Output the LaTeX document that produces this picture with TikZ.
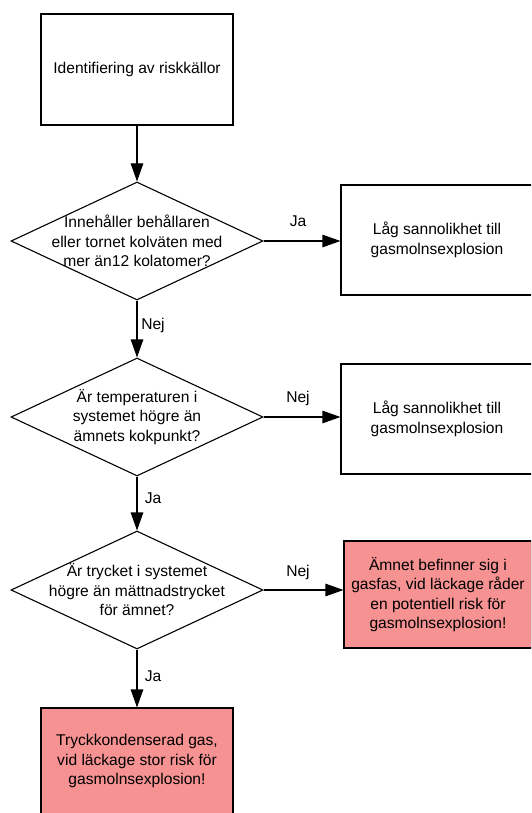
\documentclass[tikz,border=0pt]{standalone}
\usepackage{fontspec}
\setmainfont{Liberation Sans}
\usetikzlibrary{shapes.geometric,arrows.meta}
\definecolor{alarm}{RGB}{246,146,146}
\tikzset{
  every node/.style={font=\fontsize{15.6}{19.5}\selectfont},
  stepbox/.style={draw=black, line width=1.1pt, fill=white, inner sep=0pt},
  alarmbox/.style={stepbox, fill=alarm},
  decision/.style={draw=black, line width=1.1pt, shape=diamond, inner sep=0pt,
    minimum width=252pt, minimum height=118pt},
  flow/.style={line width=1.1pt, -{Triangle[length=18pt,width=12.5pt]}},
  txt/.style={align=center, inner sep=0pt},
  lbl/.style={inner sep=0pt}
}
\begin{document}
\begin{tikzpicture}[x=1pt,y=-1pt]
\clip (0,0) rectangle (531,813);
\fill[white] (0,0) rectangle (531,813);

% process boxes
\node[stepbox, minimum width=192pt, minimum height=111pt] (start) at (137,69.5) {};
\node[txt] at (start) {Identifiering av riskkällor};

\node[stepbox, minimum width=192pt, minimum height=110pt] (low1) at (437,240) {};
\node[txt] at (low1) {Låg sannolikhet till\\gasmolnsexplosion};

\node[stepbox, minimum width=192pt, minimum height=110pt] (low2) at (437,419) {};
\node[txt] at (low2) {Låg sannolikhet till\\gasmolnsexplosion};

\node[alarmbox, minimum width=188pt, minimum height=107pt] (gas) at (438,594.5) {};
\node[txt] at (gas) {Ämnet befinner sig i\\gasfas, vid läckage råder\\en potentiell risk för\\gasmolnsexplosion!};

\node[alarmbox, minimum width=192pt, minimum height=106pt] (cond) at (137,761) {};
\node[txt] at (cond) {Tryckkondenserad gas,\\vid läckage stor risk för\\gasmolnsexplosion!};

% decisions
\node[decision] (q1) at (137,241) {};
\node[txt] at (q1) {Innehåller behållaren\\eller tornet kolväten med\\mer än12 kolatomer?};

\node[decision] (q2) at (137,417) {};
\node[txt] at (q2) {Är temperaturen i\\systemet högre än\\ämnets kokpunkt?};

\node[decision] (q3) at (137,590) {};
\node[txt] at (q3) {Är trycket i systemet\\högre än mättnadstrycket\\för ämnet?};

% connectors
\draw[flow] (start.south) -- (q1.north);
\draw[flow] (q1.south) -- (q2.north);
\draw[flow] (q2.south) -- (q3.north);
\draw[flow] (q3.south) -- (cond.north);
\draw[flow] (q1.east) -- (q1.east -| low1.west);
\draw[flow] (q2.east) -- (q2.east -| low2.west);
\draw[flow] (q3.east) -- (q3.east -| gas.west);

% answer labels
\node[lbl] (a1) at (298,221) {Ja};
\node[lbl] (a2) at (153,325) {Nej};
\node[lbl] (a3) at (298,398) {Nej};
\node[lbl] (a4) at (153,498) {Ja};
\node[lbl] (a5) at (298,572) {Nej};
\node[lbl] (a6) at (153,676) {Ja};
\end{tikzpicture}
\end{document}
